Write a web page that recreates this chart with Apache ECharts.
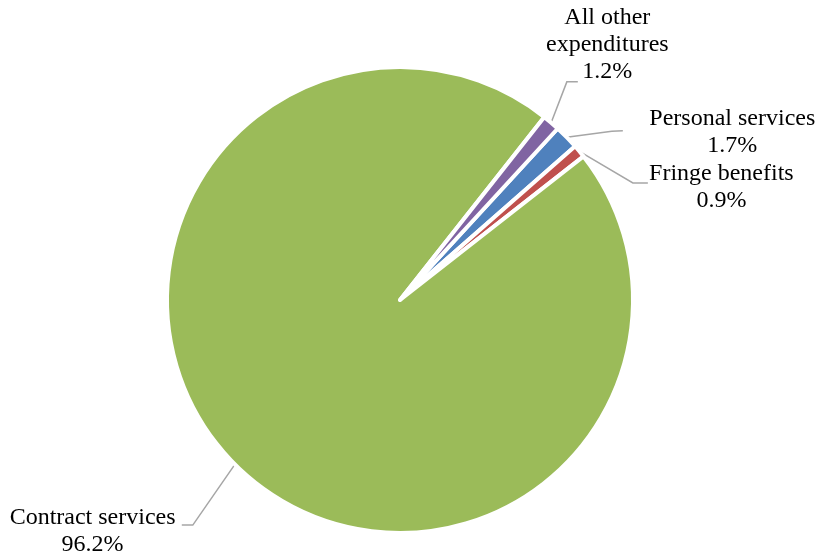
<!DOCTYPE html>
<html>
<head>
<meta charset="utf-8">
<script src="https://cdn.jsdelivr.net/npm/echarts@6/dist/echarts.min.js"></script>
<style>
  html, body { margin: 0; padding: 0; background: #ffffff; }
  #chart { width: 820px; height: 557px; }
</style>
</head>
<body>
<div id="chart"></div>
<script>
// Expenditure categories and their share of the total, in percent
const categories = ['Personal services', 'Fringe benefits', 'Contract services', 'All other\nexpenditures'];
const shares = [1.7, 0.9, 96.2, 1.2];
const sliceColors = ['#4F81BD', '#C0504D', '#9BBB59', '#8064A2'];

// Label block centre relative to the slice's rim point, plus the leader line's
// bend and end points relative to that label centre.
const labelPlacement = [
  { offset: [165.7, -5.3], elbow: [-120.5, -0.5], end: [-109.5, -1] },
  { offset: [142, 36.1],   elbow: [-88.5, -4.5],  end: [-73.5, -4.5] },
  { offset: [-142.3, 67.2], elbow: [100.2, -6.5], end: [89.2, -6.5] },
  { offset: [56.2, -77.8], elbow: [-40.5, 37],    end: [-29.5, 37] }
];

const chart = echarts.init(document.getElementById('chart'), null, { renderer: 'canvas' });

const pieData = categories.map((name, i) => ({
  name: name,
  value: shares[i],
  itemStyle: { color: sliceColors[i] }
}));

chart.setOption({
  backgroundColor: '#ffffff',
  animation: false,
  series: [{
    type: 'pie',
    center: [400, 300],
    radius: 233,
    startAngle: 47.4,
    clockwise: true,
    avoidLabelOverlap: false,
    silent: true,
    itemStyle: { borderColor: '#ffffff', borderWidth: 4 },
    emphasis: { disabled: true },
    label: {
      show: true,
      position: 'outside',
      formatter: p => p.name + '\n' + p.value.toFixed(1) + '%',
      fontFamily: '"Liberation Serif", "Times New Roman", serif',
      fontSize: 24,
      lineHeight: 27,
      color: '#000000'
    },
    labelLine: {
      show: true,
      length: 10,
      length2: 10,
      lineStyle: { color: '#A6A6A6', width: 1.5 }
    },
    labelLayout: function (params) {
      const place = labelPlacement[params.dataIndex];
      const rim = params.labelLinePoints[0];
      const cx = rim[0] + place.offset[0];
      const cy = rim[1] + place.offset[1];
      return {
        x: cx,
        y: cy,
        align: 'center',
        verticalAlign: 'middle',
        labelLinePoints: [
          rim,
          [cx + place.elbow[0], cy + place.elbow[1]],
          [cx + place.end[0], cy + place.end[1]]
        ]
      };
    },
    data: pieData
  }]
});
</script>
</body>
</html>
